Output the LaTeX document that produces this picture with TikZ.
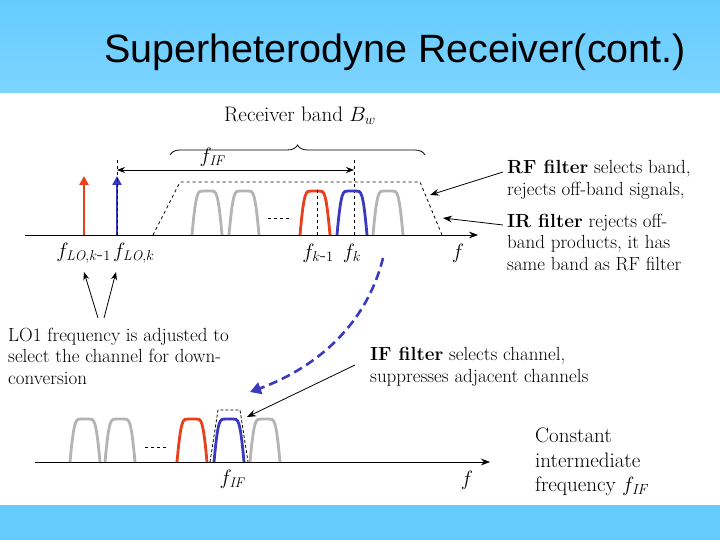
\documentclass[tikz,border=0pt]{standalone}
\usepackage{fontspec}
\newfontfamily\sans{Liberation Sans}
\usetikzlibrary{arrows.meta,decorations.pathreplacing}
\definecolor{hdr}{HTML}{66CCFF}
\definecolor{rd}{HTML}{E8401C}
\definecolor{bl}{HTML}{3A3AC0}
\definecolor{gr}{HTML}{B4B4B4}
\begin{document}
\begin{tikzpicture}[x=1pt,y=-1pt,
  txt/.style={font=\fontsize{19}{21.5}\selectfont,anchor=west,inner sep=0pt,align=left},
  lab/.style={font=\fontsize{20}{23}\selectfont,inner sep=0pt},
  axis/.style={thick,-{Stealth[length=9pt]}},
  bump/.style={line width=2.8pt},
  ptr/.style={thick,-{Stealth[length=9pt]}}]
\useasboundingbox (0,0) rectangle (720,540);
\fill[white] (0,0) rectangle (720,540);
\fill[top color=hdr,bottom color=hdr!85!white] (0,0) rectangle (720,93);
\fill[hdr] (0,505) rectangle (720,540);
\node[font=\sans\fontsize{39.5}{44}\selectfont] (title) at (395,52) {Superheterodyne Receiver(cont.)};
% ---- top spectrum
\coordinate (a0) at (25,235); \coordinate (a1) at (478,235);
\draw[axis] (a0) -- (a1);
\coordinate (r0) at (84,235); \coordinate (r1) at (84,176);
\coordinate (b0) at (117,235); \coordinate (b1) at (117,176);
\draw[line width=2.6pt,rd,-{Triangle[length=9pt,width=9pt]}] (r0) -- (r1);
\draw[line width=2.6pt,bl,-{Triangle[length=9pt,width=9pt]}] (b0) -- (b1);
\draw[thick,dashed] (117,160) -- (117,235);
\draw[thick,dashed] (354,160) -- (354,235);
\coordinate (i0) at (117,170); \coordinate (i1) at (354,170);
\draw[thick,{Stealth[length=8pt]}-{Stealth[length=8pt]}] (i0) -- (i1);
\node[lab] (fif) at (212,157) {$f_{\mathit{IF}}$};
\draw[thick,decorate,decoration={brace,amplitude=10pt}] (170,155) -- (425,155);
\node[lab,font=\fontsize{21}{23}\selectfont] (rb) at (300,116) {Receiver band $B_w$};
\draw[thick,dashed] (153,235) -- (180,182) -- (420,182) -- (442,235);
\def\bmp#1#2#3{\draw[bump,#1] (#2,235) .. controls (#2+4,190) and (#2+6,191) .. (#2+11,191) -- (#2+19,191) .. controls (#2+24,191) and (#2+26,190) .. (#2+30,235);}
\bmp{gr}{192}{}\bmp{gr}{229}{}\bmp{rd}{300}{}\bmp{bl}{337}{}\bmp{gr}{373}{}
\draw[thick,dashed] (268,218) -- (290,218);
\draw[thick,dashed] (317,190) -- (317,235);
\node[lab,anchor=east] (l1) at (111,253) {$f_{\mathit{LO},k\mbox{-}1}$};
\node[lab,anchor=west] (l2) at (113,253) {$f_{\mathit{LO},k}$};
\node[lab] (l3) at (318,253) {$f_{k\mbox{-}1}$};
\node[lab] (l4) at (352,253) {$f_k$};
\node[lab] (l5) at (458,253) {$f$};
\node[txt] (rf) at (507,180) {\textbf{RF filter} selects band,\\rejects off-band signals,};
\node[txt] (ir) at (507,242) {\textbf{IR filter} rejects off-\\band products, it has\\same band as RF filter};
\coordinate (t1) at (430,195); \coordinate (t2) at (443,218);
\draw[ptr] (503,172) -- (t1);
\draw[ptr] (503,225) -- (t2);
\node[txt] (lo) at (8,356) {LO1 frequency is adjusted to\\select the channel for down-\\conversion};
\coordinate (p1) at (84,272); \coordinate (p2) at (116,272);
\draw[thick,-{Stealth[length=8pt]}] (98,318) -- (p1);
\draw[thick,-{Stealth[length=8pt]}] (104,318) -- (p2);
\coordinate (cv0) at (383,258); \coordinate (cv1) at (250,392);
\draw[bl,line width=2.6pt,dash pattern=on 9pt off 5pt,-{Triangle[length=11pt,width=12pt]}] (cv0) .. controls (365,330) and (310,370) .. (cv1);
\node[txt] (iff) at (370,367) {\textbf{IF filter} selects channel,\\suppresses adjacent channels};
\coordinate (t3) at (247,417);
\draw[ptr] (355,365) -- (t3);
% ---- bottom spectrum
\coordinate (c0) at (35,462); \coordinate (c1) at (490,462);
\draw[axis] (c0) -- (c1);
\def\bmq#1#2{\draw[bump,#1] (#2,462) .. controls (#2+4,418) and (#2+6,419) .. (#2+11,419) -- (#2+19,419) .. controls (#2+24,419) and (#2+26,418) .. (#2+30,462);}
\bmq{gr}{70}\bmq{gr}{105}\bmq{rd}{177}\bmq{bl}{214}\bmq{gr}{250}
\draw[thick,dashed] (145,447) -- (167,447);
\draw[thick,densely dashed] (210,462) -- (218,410) -- (240,410) -- (248,462);
\node[lab] (fif2) at (232,479) {$f_{\mathit{IF}}$};
\node[lab] (f2) at (467,480) {$f$};
\node[txt,font=\fontsize{21}{24.5}\selectfont] (cst) at (535,462) {Constant\\intermediate\\frequency $f_{\mathit{IF}}$};
\end{tikzpicture}
\end{document}
